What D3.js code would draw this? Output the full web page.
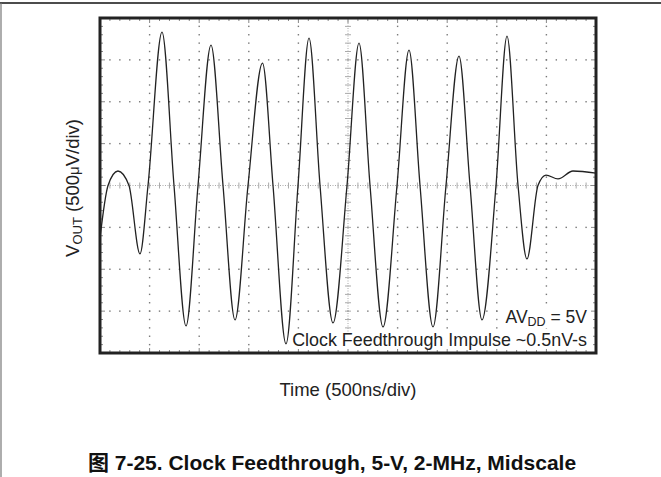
<!DOCTYPE html>
<html>
<head>
<meta charset="utf-8">
<script src="https://cdn.jsdelivr.net/npm/d3@7"></script>
<style>
	body { margin: 0; background: #fff; }
	text { font-family: "Liberation Sans", Arial, sans-serif; }
</style>
</head>
<body>
<script>
const WIDTH = 661;
const HEIGHT = 477;
const PLOT_LEFT = 100;
const PLOT_TOP = 18;
const PLOT_WIDTH = 496;
const PLOT_HEIGHT = 335;

// scope trace: time in ns, output in uV
var timeNs = [0, 81, 181, 292, 403, 484, 625, 746, 867, 988, 1119, 1240, 1361, 1492,
	1638, 1744, 1875, 1996, 2107, 2218, 2349, 2490, 2611, 2722, 2853, 2994, 3115,
	3226, 3357, 3488, 3619, 3730, 3851, 3992, 4103, 4214, 4304, 4415, 4496, 4617,
	4768, 5000];
var voutUv = [-626, 0, 173, 0, -817, 0, 1832, 0, -1677, 0, 1677, 0, -1605, 0,
	1462, 0, -1891, 0, 1760, 0, -1641, 0, 1700, 0, -1689, 0, 1617,
	0, -1689, 0, 1545, 0, -1605, 0, 1784, 0, -877, 0, 125, 78,
	173, 149];

var timeRange = [0, 5000];     // 10 div x 500ns
var voutRange = [-2000, 2000]; // 8 div x 500uV
var xMajor = 10, yMajor = 8, minorPerDiv = 5;

var _svg, _xScale, _yScale;

var createChart = function(){
	_svg = d3.select('body').append('svg')
		.attr('width', WIDTH)
		.attr('height', HEIGHT);

	// page frame
	_svg.append('line')
		.attr('x1', 0).attr('y1', 3).attr('x2', WIDTH).attr('y2', 3)
		.style('stroke', '#111').style('stroke-width', 1.6);
	_svg.append('line')
		.attr('x1', 1).attr('y1', 3).attr('x2', 1).attr('y2', HEIGHT)
		.style('stroke', '#777').style('stroke-width', 1.2);

	_xScale = d3.scaleLinear().domain(timeRange).range([0, PLOT_WIDTH]);
	_yScale = d3.scaleLinear().domain(voutRange).range([PLOT_HEIGHT, 0]);

	var g = _svg.append('g')
		.attr('transform', 'translate(' + PLOT_LEFT + ',' + PLOT_TOP + ')')
		.classed('graph', true);

	var xMajTicks = _xScale.ticks(xMajor);
	var yMajTicks = _yScale.ticks(yMajor);
	var xMinTicks = _xScale.ticks(xMajor * minorPerDiv);
	var yMinTicks = _yScale.ticks(yMajor * minorPerDiv);
	var xMid = (timeRange[0] + timeRange[1]) / 2;
	var yMid = (voutRange[0] + voutRange[1]) / 2;

	// dotted graticule: a dot at every minor step along each major line
	var dots = [];
	xMajTicks.forEach(function(t){
		if (t === timeRange[0] || t === timeRange[1] || t === xMid) return;
		yMinTicks.forEach(function(v){ dots.push([t, v]); });
	});
	yMajTicks.forEach(function(v){
		if (v === voutRange[0] || v === voutRange[1] || v === yMid) return;
		xMinTicks.forEach(function(t){ dots.push([t, v]); });
	});
	g.append('g').selectAll('rect')
		.data(dots)
		.enter().append('rect')
		.attr('x', function(d){ return _xScale(d[0]) - 0.7; })
		.attr('y', function(d){ return _yScale(d[1]) - 0.7; })
		.attr('width', 1.4)
		.attr('height', 1.4)
		.style('fill', '#777');

	// centre lines with minor ticks
	g.append('line')
		.attr('x1', 0).attr('x2', PLOT_WIDTH)
		.attr('y1', _yScale(yMid)).attr('y2', _yScale(yMid))
		.style('stroke', '#aaa').style('stroke-width', 1)
		.style('stroke-dasharray', '1,1.5');
	g.append('line')
		.attr('y1', 0).attr('y2', PLOT_HEIGHT)
		.attr('x1', _xScale(xMid)).attr('x2', _xScale(xMid))
		.style('stroke', '#aaa').style('stroke-width', 1)
		.style('stroke-dasharray', '1,1.5');

	g.append('g').selectAll('line')
		.data(xMinTicks)
		.enter().append('line')
		.attr('x1', function(d){ return _xScale(d); })
		.attr('x2', function(d){ return _xScale(d); })
		.attr('y1', _yScale(yMid) - 3)
		.attr('y2', _yScale(yMid) + 3)
		.style('stroke', '#aaa');
	g.append('g').selectAll('line')
		.data(yMinTicks)
		.enter().append('line')
		.attr('y1', function(d){ return _yScale(d); })
		.attr('y2', function(d){ return _yScale(d); })
		.attr('x1', _xScale(xMid) - 3)
		.attr('x2', _xScale(xMid) + 3)
		.style('stroke', '#aaa');

	// small ticks inside the border
	var borderTicks = g.append('g').style('stroke', '#888');
	borderTicks.selectAll('.tt')
		.data(xMinTicks)
		.enter().append('line')
		.attr('x1', function(d){ return _xScale(d); })
		.attr('x2', function(d){ return _xScale(d); })
		.attr('y1', 0).attr('y2', function(d, i){ return i % minorPerDiv ? 3 : 5; });
	borderTicks.selectAll('.bt')
		.data(xMinTicks)
		.enter().append('line')
		.attr('x1', function(d){ return _xScale(d); })
		.attr('x2', function(d){ return _xScale(d); })
		.attr('y1', PLOT_HEIGHT)
		.attr('y2', function(d, i){ return PLOT_HEIGHT - (i % minorPerDiv ? 3 : 5); });
	borderTicks.selectAll('.lt')
		.data(yMinTicks)
		.enter().append('line')
		.attr('y1', function(d){ return _yScale(d); })
		.attr('y2', function(d){ return _yScale(d); })
		.attr('x1', 0).attr('x2', function(d, i){ return i % minorPerDiv ? 3 : 5; });
	borderTicks.selectAll('.rt')
		.data(yMinTicks)
		.enter().append('line')
		.attr('y1', function(d){ return _yScale(d); })
		.attr('y2', function(d){ return _yScale(d); })
		.attr('x1', PLOT_WIDTH)
		.attr('x2', function(d, i){ return PLOT_WIDTH - (i % minorPerDiv ? 3 : 5); });

	return g;
}

var drawTrace = function(g){
	var line = d3.line()
		.x(function(d, i){ return _xScale(timeNs[i]); })
		.y(function(d){ return _yScale(d); })
		.curve(d3.curveMonotoneX);

	g.append('path')
		.classed('trace', true)
		.datum(voutUv)
		.attr('d', line)
		.style('fill', 'none')
		.style('stroke', '#222')
		.style('stroke-width', 1.3);
}

// white box behind the on-screen notes (under the trace), like the scope capture
var backText = function(g, text){
	var b = text.node().getBBox();
	g.insert('rect', '.trace')
		.attr('x', b.x - 1).attr('y', b.y + 2)
		.attr('width', b.width + 2).attr('height', b.height - 3)
		.style('fill', '#fff');
}

var addLabels = function(g){
	var t1 = g.append('text')
		.attr('x', PLOT_WIDTH - 9)
		.attr('y', 305)
		.attr('text-anchor', 'end')
		.style('font-size', '17.5px')
		.style('fill', '#222');
	t1.append('tspan').text('AV');
	t1.append('tspan').attr('baseline-shift', '-25%').style('font-size', '12.5px').text('DD');
	t1.append('tspan').text(' = 5V');
	backText(g, t1);

	var t2 = g.append('text')
		.attr('x', PLOT_WIDTH - 9)
		.attr('y', 328)
		.attr('text-anchor', 'end')
		.style('font-size', '17.9px')
		.style('fill', '#222')
		.text('Clock Feedthrough Impulse ~0.5nV-s');
	backText(g, t2);

	// border drawn last so it sits over the trace and the note boxes
	g.append('rect')
		.attr('x', 0).attr('y', 0)
		.attr('width', PLOT_WIDTH).attr('height', PLOT_HEIGHT)
		.style('fill', 'none')
		.style('stroke', '#222')
		.style('stroke-width', 3);

	_svg.append('text')
		.attr('x', PLOT_LEFT + PLOT_WIDTH / 2)
		.attr('y', 396)
		.attr('text-anchor', 'middle')
		.style('font-size', '18.5px')
		.style('fill', '#222')
		.text('Time (500ns/div)');

	var yl = _svg.append('text')
		.attr('transform', 'translate(79,188) rotate(-90)')
		.attr('text-anchor', 'middle')
		.style('font-size', '18.5px')
		.style('fill', '#222');
	yl.append('tspan').text('V');
	yl.append('tspan').attr('baseline-shift', '-25%').style('font-size', '13px').text('OUT');
	yl.append('tspan').text(' (500');
	yl.append('tspan').style('font-size', '15px').text('\u03bc');
	yl.append('tspan').text('V/div)');

	_svg.append('text')
		.attr('x', 332)
		.attr('y', 470)
		.attr('text-anchor', 'middle')
		.style('font-size', '21px')
		.style('font-weight', 'bold')
		.style('font-family', '"Liberation Sans", "Noto Sans CJK SC", sans-serif')
		.style('fill', '#111')
		.text('\u56fe 7-25. Clock Feedthrough, 5-V, 2-MHz, Midscale');
}

window.onload = function(){
	var g = createChart();
	drawTrace(g);
	addLabels(g);
}
</script>
</body>
</html>
